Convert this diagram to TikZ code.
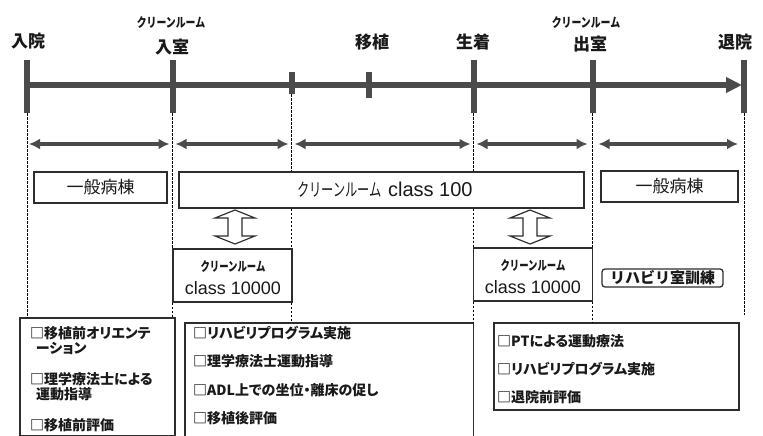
\documentclass[tikz,border=0pt]{standalone}
\usepackage{graphicx}
\usepackage{fontspec}
\setmainfont{Liberation Sans}
\newfontfamily\jp{Noto Sans CJK JP}
\newfontfamily\jpp{Noto Sans CJK JP}[RawFeature=+palt]
\usetikzlibrary{arrows.meta,calc}
\definecolor{tl}{RGB}{75,75,75}
\definecolor{bx}{RGB}{45,45,45}
\definecolor{ink}{RGB}{25,25,25}
\newcommand{\crsmall}[2]{\scalebox{#2}[1]{\jp\bfseries\fontsize{#1}{#1}\selectfont クリーンルーム}}
\begin{document}
\begin{tikzpicture}[x=1pt,y=-1pt,
  tickmark/.style={line width=6pt, draw=tl},
  tline/.style={line width=5pt, draw=tl},
  periodarrow/.style={draw=tl, line width=3.6pt, {Latex[length=11pt,width=11pt]}-{Latex[length=11pt,width=11pt]}},
  guide/.style={draw=black, line width=0.8pt, dash pattern=on 2.5pt off 1.5pt},
  box/.style={draw=bx, line width=1.3pt, inner sep=0pt},
  hollow/.style={draw=bx, line width=1.2pt, fill=white, line join=miter},
  lbl/.style={font=\jp\bfseries\fontsize{17}{17}\selectfont, text=ink, inner sep=0pt},
  wtxt/.style={font=\jp\fontsize{17}{17}\selectfont, text=ink, inner sep=0pt},
  item/.style={font=\jpp\bfseries\fontsize{14}{14}\selectfont, text=ink, inner sep=0pt, anchor=west},
]
\useasboundingbox (0,0) rectangle (763,436);
\fill[white] (0,0) rectangle (763,436);

% event coordinates on the time line
\coordinate (e0) at (27,85);
\coordinate (e1) at (172.5,85);
\coordinate (e2) at (291.5,85);
\coordinate (e3) at (369,85);
\coordinate (e4) at (473.5,85);
\coordinate (e5) at (592.5,85);
\coordinate (e6) at (744,85);

% boxes
\node[box, minimum width=133pt, minimum height=31pt] (ward1) at (100.5,187.5) {};
\node[box, minimum width=405pt, minimum height=36pt] (cr100) at (381.5,190) {};
\node[box, minimum width=137pt, minimum height=31pt] (ward2) at (669.5,186.5) {};
\node[box, minimum width=119pt, minimum height=53pt] (k1) at (232.5,275.5) {};
\node[box, minimum width=119pt, minimum height=53pt] (k2) at (533,274.5) {};
\node[box, rounded corners=3pt, minimum width=121pt, minimum height=18pt] (rehab) at (662.5,278) {};
\node[box, minimum width=155pt, minimum height=118pt] (box1) at (97.5,377) {};
\node[box, minimum width=288.5pt, minimum height=117pt] (box2) at (329.25,381.5) {};
\node[box, minimum width=245pt, minimum height=87pt] (box3) at (616.5,366.5) {};

% guide lines
\draw[guide] ($(e0)+(0,28)$) -- (e0 |- box1.north);
\draw[guide] ($(e1)+(0,28)$) -- (e1 |- k1.north);
\draw[guide] (e1 |- k1.south) -- (e1 |- box1.north);
\draw[guide] ($(e2)+(0,9)$) -- (e2 |- cr100.north);
\draw[guide] (e2 |- cr100.south) -- (e2 |- k1.north);
\draw[guide] (e2 |- k1.south) -- (e2 |- box2.north);
\draw[guide] ($(e4)+(0,28)$) -- (e4 |- cr100.north);
\draw[guide] (e4 |- cr100.south) -- (e4 |- k2.north);
\draw[guide] (e4 |- k2.south) -- (e4 |- box2.north);
\draw[guide] ($(e5)+(0,28)$) -- (e5 |- k2.north);
\draw[guide] (e5 |- k2.south) -- (e5 |- box3.north);
\coordinate (g6) at ($(e6)+(0,230)$);
\draw[guide] ($(e6)+(0,28)$) -- (g6);

% time line
\draw[tline, shorten >=2pt, -{Triangle[length=16pt,width=15pt]}] (e0) -- (e6);
\foreach \e in {e0,e1,e4,e5,e6}
  \draw[tickmark] ($(\e)+(0,-25)$) -- ($(\e)+(0,28)$);
\draw[tickmark] ($(e2)+(0,-13)$) -- ($(e2)+(0,9)$);
\draw[tickmark] ($(e3)+(0,-13)$) -- ($(e3)+(0,13)$);

% period arrows
\coordinate (p0s) at ($(e0)+(2,59)$);  \coordinate (p0e) at ($(e1)+(-3,59)$);
\coordinate (p1s) at ($(e1)+(3,59)$);  \coordinate (p1e) at ($(e2)+(-3,59)$);
\coordinate (p2s) at ($(e2)+(3,59)$);  \coordinate (p2e) at ($(e4)+(-3,59)$);
\coordinate (p3s) at ($(e4)+(3,59)$);  \coordinate (p3e) at ($(e5)+(-5,59)$);
\coordinate (p4s) at ($(e5)+(6,59)$);  \coordinate (p4e) at ($(e6)+(-6,59)$);
\draw[periodarrow] (p0s) -- (p0e);
\draw[periodarrow] (p1s) -- (p1e);
\draw[periodarrow] (p2s) -- (p2e);
\draw[periodarrow] (p3s) -- (p3e);
\draw[periodarrow] (p4s) -- (p4e);

% hollow double arrows
\coordinate (h1) at (235,210);
\coordinate (h2) at (530,210);
\foreach \h in {h1,h2}
  \draw[hollow, shift={(\h)}] (0,0) -- (20,8) -- (7,8) -- (7,26) -- (20,26) -- (0,34)
     -- (-20,26) -- (-7,26) -- (-7,8) -- (-20,8) -- cycle;

% time line labels
\node[lbl] (lin) at (28,41) {入院};
\node[inner sep=0pt, text=ink] (lcr1) at (171,23) {\crsmall{13}{0.76}};
\node[lbl] (lnyu) at (172,47) {入室};
\node[lbl] (lisho) at (372,42) {移植};
\node[lbl] (lsei) at (473,42) {生着};
\node[inner sep=0pt, text=ink] (lcr2) at (586,23) {\crsmall{13}{0.76}};
\node[lbl] (lshu) at (590,44) {出室};
\node[lbl] (ltai) at (735,42) {退院};

% box texts
\node[wtxt] (tw1) at (ward1.center) {一般病棟};
\node[wtxt] (tw2) at (ward2.center) {一般病棟};
\node[inner sep=0pt, text=ink] (tcr) at (385,190)
  {\scalebox{0.68}[1]{\jp\fontsize{18}{18}\selectfont クリーンルーム}\hspace{6pt}{\fontsize{20}{20}\selectfont class 100}};
\node[inner sep=0pt, text=ink] (tk1a) at (233,267) {\crsmall{13}{0.72}};
\node[inner sep=0pt, text=ink, font=\fontsize{18}{18}\selectfont] (tk1b) at (233,288) {class 10000};
\node[inner sep=0pt, text=ink] (tk2a) at (533,266) {\crsmall{13}{0.72}};
\node[inner sep=0pt, text=ink, font=\fontsize{18}{18}\selectfont] (tk2b) at (533,287) {class 10000};
\node[inner sep=0pt, text=ink, font=\jp\bfseries\fontsize{15}{15}\selectfont] (trh) at (rehab.center) {リハビリ室訓練};

% lists
\node[item] (b1a) at (30,333) {□移植前オリエンテ};
\node[item] (b1b) at (36,348) {ーション};
\node[item] (b1c) at (30,379) {□理学療法士による};
\node[item] (b1d) at (36,394) {運動指導};
\node[item] (b1e) at (30,425) {□移植前評価};

\node[item] (b2a) at (193,333) {□リハビリプログラム実施};
\node[item] (b2b) at (193,361) {□理学療法士運動指導};
\node[item] (b2c) at (193,390) {□ADL上での坐位・離床の促し};
\node[item] (b2d) at (193,418) {□移植後評価};

\node[item] (b3a) at (497,341) {□PTによる運動療法};
\node[item] (b3b) at (497,369) {□リハビリプログラム実施};
\node[item] (b3c) at (497,397) {□退院前評価};
\end{tikzpicture}
\end{document}
